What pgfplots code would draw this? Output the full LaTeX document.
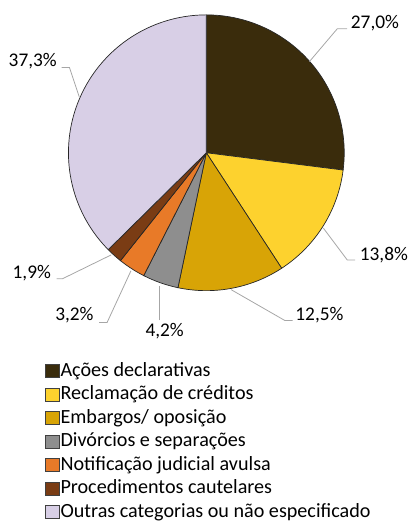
\documentclass[border=0pt]{standalone}
\usepackage{pgfplots}
\pgfplotsset{compat=1.18}
\usepackage{fontspec}
\setmainfont{Carlito}
\definecolor{cA}{HTML}{3A2C0C}
\definecolor{cB}{HTML}{FDD22E}
\definecolor{cC}{HTML}{D8A406}
\definecolor{cD}{HTML}{8E8E8E}
\definecolor{cE}{HTML}{E87A28}
\definecolor{cF}{HTML}{7A3C14}
\definecolor{cG}{HTML}{D8CFE6}
\definecolor{lead}{HTML}{A6A6A6}
\def\cx{208}
\def\cy{154}
\def\rr{139}
\begin{document}
\begin{tikzpicture}[font=\fontsize{19.5bp}{23bp}\selectfont]
\begin{axis}[
  scale only axis, width=414bp, height=522bp,
  xmin=0, xmax=414, ymin=0, ymax=522, y dir=reverse,
  hide axis, clip=false,
  legend image code/.code={\draw[#1,line width=0.5bp,draw=black!75] (0bp,-6bp) rectangle (14bp,7bp);},
  legend cell align=left,
  legend style={at={(axis cs:45,365)}, anchor=north west, draw=none, fill=none,
    inner sep=0pt, outer sep=0pt, row sep=4.47bp,
    font=\fontsize{20.3bp}{24bp}\selectfont,
    nodes={inner xsep=1.5bp, inner ysep=0pt, text height=14.5bp, text depth=4.7bp}},
]
\path (axis cs:0,0) rectangle (axis cs:414,522);
% slices: percentages 27.0, 13.8, 12.5, 4.2, 3.2, 1.9, 37.3 (cumulative bounds in %)
\addplot[fill=cA, draw=black!85, line width=0.7bp, domain=0:27.0, samples=80] ({\cx+\rr*sin(3.6*x)},{\cy-\rr*cos(3.6*x)}) -- (axis cs:\cx,\cy) -- cycle;
\addplot[fill=cB, draw=black!85, line width=0.7bp, domain=27.0:40.8, samples=50] ({\cx+\rr*sin(3.6*x)},{\cy-\rr*cos(3.6*x)}) -- (axis cs:\cx,\cy) -- cycle;
\addplot[fill=cC, draw=black!85, line width=0.7bp, domain=40.8:53.3, samples=50] ({\cx+\rr*sin(3.6*x)},{\cy-\rr*cos(3.6*x)}) -- (axis cs:\cx,\cy) -- cycle;
\addplot[fill=cD, draw=black!85, line width=0.7bp, domain=53.3:57.5, samples=20] ({\cx+\rr*sin(3.6*x)},{\cy-\rr*cos(3.6*x)}) -- (axis cs:\cx,\cy) -- cycle;
\addplot[fill=cE, draw=black!85, line width=0.7bp, domain=57.5:60.7, samples=20] ({\cx+\rr*sin(3.6*x)},{\cy-\rr*cos(3.6*x)}) -- (axis cs:\cx,\cy) -- cycle;
\addplot[fill=cF, draw=black!85, line width=0.7bp, domain=60.7:62.6, samples=15] ({\cx+\rr*sin(3.6*x)},{\cy-\rr*cos(3.6*x)}) -- (axis cs:\cx,\cy) -- cycle;
\addplot[fill=cG, draw=black!85, line width=0.7bp, domain=62.6:100, samples=100] ({\cx+\rr*sin(3.6*x)},{\cy-\rr*cos(3.6*x)}) -- (axis cs:\cx,\cy) -- cycle;
\legend{Ações declarativas, Reclamação de créditos, Embargos/ oposição, Divórcios e separações, Notificação judicial avulsa, Procedimentos cautelares, Outras categorias ou não especificado}
% leader lines
\draw[lead, line width=0.8bp] (axis cs:350,29) -- (axis cs:340,29) -- (axis cs:312,62);
\draw[lead, line width=0.8bp] (axis cs:358,262) -- (axis cs:350,262) -- (axis cs:326,230);
\draw[lead, line width=0.8bp] (axis cs:295,323) -- (axis cs:287,323) -- (axis cs:233,292);
\draw[lead, line width=0.8bp] (axis cs:161,323) -- (axis cs:161,288);
\draw[lead, line width=0.8bp] (axis cs:100,325) -- (axis cs:108,325) -- (axis cs:132,273);
\draw[lead, line width=0.8bp] (axis cs:57,281) -- (axis cs:63,281) -- (axis cs:112,257);
\draw[lead, line width=0.8bp] (axis cs:62,68) -- (axis cs:70,68) -- (axis cs:80,98);
% labels
\node[inner sep=0pt] at (axis cs:378,23) {27,0\%};
\node[inner sep=0pt] at (axis cs:387,257) {13,8\%};
\node[inner sep=0pt] at (axis cs:322,318) {12,5\%};
\node[inner sep=0pt] at (axis cs:166,334) {4,2\%};
\node[inner sep=0pt] at (axis cs:75,318) {3,2\%};
\node[inner sep=0pt] at (axis cs:32,275) {1,9\%};
\node[inner sep=0pt] at (axis cs:33,62) {37,3\%};
\end{axis}
\end{tikzpicture}
\end{document}
